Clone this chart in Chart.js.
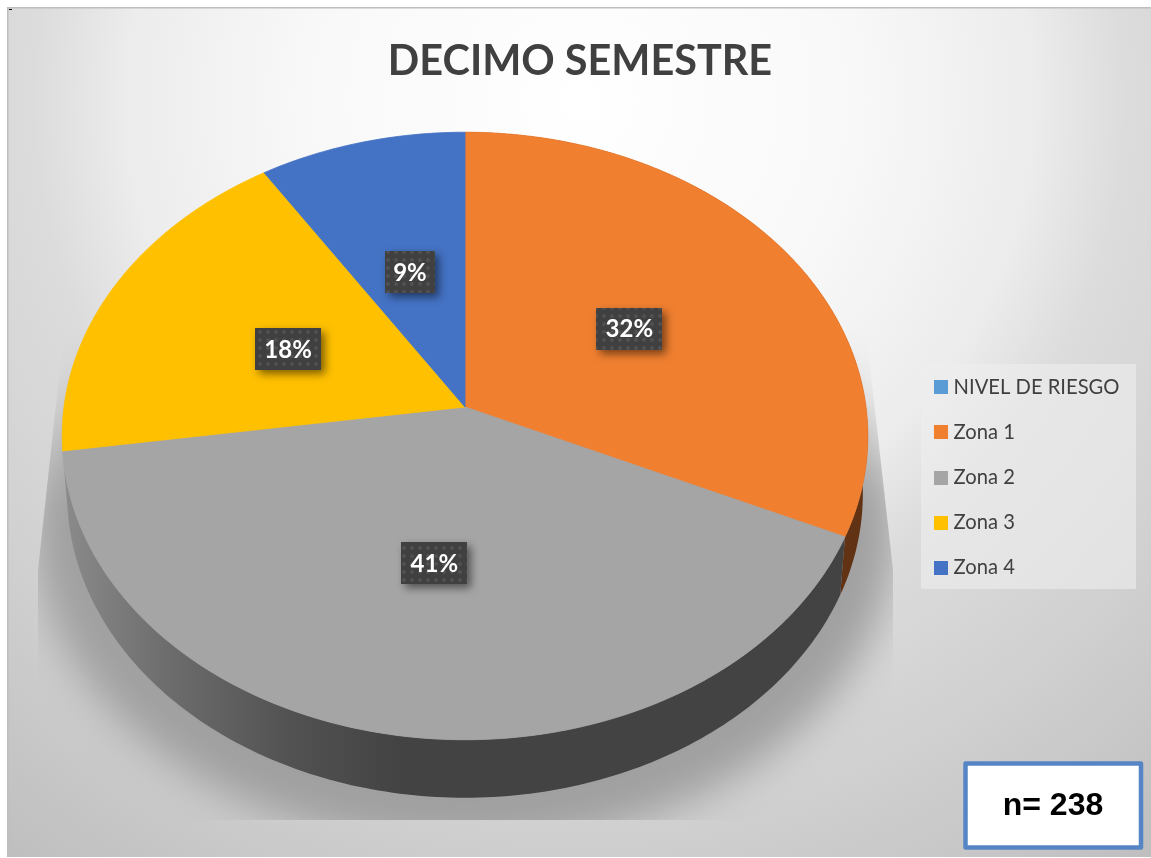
<!DOCTYPE html>
<html>
<head>
<meta charset="utf-8">
<style>html,body{margin:0;padding:0;background:#fff}canvas{display:block}</style>
<script src="https://cdn.jsdelivr.net/npm/chart.js@4"></script>
</head>
<body>
<canvas id="c" width="1151" height="858" style="width:1151px;height:858px"></canvas>
<script>
const chartTitle = 'DECIMO SEMESTRE';
const categories = ['NIVEL DE RIESGO', 'Zona 1', 'Zona 2', 'Zona 3', 'Zona 4'];
const shares = [0, 31.8, 40.9, 18.2, 9.1];
const topColors = ['#5B9BD5', '#F07F30', '#A5A5A5', '#FFC000', '#4472C4'];
const sideColors = [null, '#613214', 'gradient', null, null];
const noteText = 'n= 238';

/* perspective projection of the unit disc on to the page */
const PX = 465, PY = 407, DEPTH_Y = 465, SCALE_X = 401, SCALE_Y = 301, TILT = 0.0954, LOWER_X = 0.9876;
const labelNudge = [[0, 0], [0, 1], [-1, 0], [2, 3], [-1, 3]];
function project(u, v, lower) {
  const w = 1 - TILT * v;
  return [PX + SCALE_X * (lower ? LOWER_X : 1) * u / w, (lower ? DEPTH_Y : PY) + SCALE_Y * v / w];
}
function rimSteps(arc) {
  return Math.max(2, Math.ceil((arc.endAngle - arc.startAngle) * 60));
}
function rimPoint(arc, i, n, lower) {
  const a = arc.startAngle + (arc.endAngle - arc.startAngle) * i / n;
  return project(Math.cos(a), Math.sin(a), lower);
}
function slicePath(ctx, arc) {
  const n = rimSteps(arc), c = project(0, 0, false);
  ctx.beginPath();
  ctx.moveTo(c[0], c[1]);
  for (let i = 0; i <= n; i++) {
    const p = rimPoint(arc, i, n, false);
    ctx.lineTo(p[0], p[1]);
  }
  ctx.closePath();
}
function bandPath(ctx, arc) {
  const n = rimSteps(arc);
  ctx.beginPath();
  for (let i = 0; i <= n; i++) {
    const p = rimPoint(arc, i, n, false);
    if (i) ctx.lineTo(p[0], p[1]); else ctx.moveTo(p[0], p[1]);
  }
  for (let i = n; i >= 0; i--) {
    const p = rimPoint(arc, i, n, true);
    ctx.lineTo(p[0], p[1]);
  }
  ctx.closePath();
}
function dotPattern(ctx) {
  const t = document.createElement('canvas');
  t.width = t.height = 8;
  const g = t.getContext('2d');
  g.fillStyle = '#404040'; g.fillRect(0, 0, 8, 8);
  g.fillStyle = 'rgba(255,255,255,0.09)';
  g.beginPath(); g.arc(4, 4, 2, 0, Math.PI * 2); g.fill();
  return ctx.createPattern(t, 'repeat');
}
function legendSwatch(color) {
  const t = document.createElement('canvas');
  t.width = t.height = 14;
  const g = t.getContext('2d');
  g.fillStyle = color; g.fillRect(0, 0, 14, 14);
  return t;
}

const scenePlugin = {
  id: 'scene',
  beforeDraw(chart) {
    const ctx = chart.ctx;
    ctx.save();
    ctx.fillStyle = '#fff'; ctx.fillRect(0, 0, 1151, 858);
    /* background */
    ctx.save();
    ctx.beginPath(); ctx.rect(7, 7, 1144, 850); ctx.clip();
    ctx.translate(580, 100); ctx.scale(700, 700);
    const g = ctx.createRadialGradient(0, 0, 0, 0, 0, 1.4);
    [[0,'#ffffff'],[.4/1.4,'#f8f8f8'],[.65/1.4,'#ececec'],[.78/1.4,'#dcdcdc'],[1/1.4,'#d2d2d2'],[1.22/1.4,'#c6c6c6'],[1,'#bcbcbc']]
      .forEach(s => g.addColorStop(s[0], s[1]));
    ctx.fillStyle = g;
    ctx.fillRect(-2, -2, 4, 4);
    ctx.restore();
    ctx.fillStyle = '#bdbdbd';
    ctx.fillRect(7, 7, 1144, 1.5);
    ctx.fillRect(7, 7, 1.5, 850);
    ctx.fillStyle = '#000';
    ctx.fillRect(9, 9, 3, 1);
    /* soft floor shadow */
    ctx.save();
    ctx.beginPath();
    ctx.moveTo(64, 330); ctx.lineTo(866, 330); ctx.lineTo(893, 570); ctx.lineTo(893, 820);
    ctx.lineTo(38, 820); ctx.lineTo(38, 570); ctx.closePath(); ctx.clip();
    ctx.filter = 'blur(20px)';
    const sg = ctx.createLinearGradient(0, 330, 0, 500);
    sg.addColorStop(0, 'rgba(160,160,160,0)');
    sg.addColorStop(1, 'rgba(160,160,160,1)');
    ctx.fillStyle = sg;
    ctx.beginPath(); ctx.ellipse(465, 525, 432, 322, 0, 0, Math.PI * 2); ctx.fill();
    ctx.restore();
    /* legend panel */
    ctx.fillStyle = 'rgba(238,238,238,0.6)';
    ctx.fillRect(921, 364, 215, 225);
    ctx.restore();
  },
  afterLayout(chart) {
    const l = chart.legend, w = l.right - l.left, h = l.bottom - l.top;
    l.left = 913.5; l.right = l.left + w; l.top = 352; l.bottom = l.top + h;
    l.adjustHitBoxes();
    const t = chart.titleBlock;
    t.left += 4.5; t.right += 4.5;
  },
  beforeDatasetsDraw(chart) {
    const ctx = chart.ctx, arcs = chart.getDatasetMeta(0).data;
    ctx.save();
    const side = ctx.createLinearGradient(66, 0, 400, 0);
    side.addColorStop(0, '#8a8a8a');
    side.addColorStop(0.31, '#6c6c6c');
    side.addColorStop(0.67, '#525252');
    side.addColorStop(1, '#434343');
    arcs.forEach((arc, i) => {
      if (!shares[i] || !sideColors[i]) return;
      bandPath(ctx, arc);
      ctx.fillStyle = sideColors[i] === 'gradient' ? side : sideColors[i];
      ctx.fill();
    });
    arcs.forEach((arc, i) => {
      if (!shares[i]) return;
      slicePath(ctx, arc);
      ctx.fillStyle = topColors[i];
      ctx.strokeStyle = topColors[i];
      ctx.lineWidth = 0.8;
      ctx.fill();
      ctx.stroke();
    });
    ctx.restore();
    return false;
  },
  afterDraw(chart) {
    const ctx = chart.ctx, arcs = chart.getDatasetMeta(0).data;
    const total = shares.reduce((a, b) => a + b, 0);
    const pat = dotPattern(ctx);
    ctx.save();
    ctx.font = 'bold 24px Lato';
    ctx.textAlign = 'center';
    ctx.textBaseline = 'middle';
    arcs.forEach((arc, i) => {
      if (!shares[i]) return;
      const a = (arc.startAngle + arc.endAngle) / 2;
      const p = project(0.5 * Math.cos(a), 0.5 * Math.sin(a), false);
      p[0] += labelNudge[i][0]; p[1] += labelNudge[i][1];
      const label = Math.round(shares[i] / total * 100) + '%';
      const bw = label.length > 2 ? 66 : 50, bh = 42;
      ctx.save();
      ctx.shadowColor = 'rgba(0,0,0,0.5)';
      ctx.shadowBlur = 9; ctx.shadowOffsetX = 4; ctx.shadowOffsetY = 4;
      ctx.fillStyle = pat;
      ctx.fillRect(Math.round(p[0] - bw / 2), Math.round(p[1] - bh / 2), bw, bh);
      ctx.restore();
      ctx.fillStyle = '#ffffff';
      ctx.fillText(label, p[0], p[1] + 1);
    });
    /* note box */
    ctx.fillStyle = '#ffffff';
    ctx.strokeStyle = '#5585C5';
    ctx.lineWidth = 4.5;
    ctx.lineJoin = 'round';
    ctx.beginPath(); ctx.rect(965.5, 763.5, 175.5, 84); ctx.fill(); ctx.stroke();
    ctx.fillStyle = '#000000';
    ctx.font = 'bold 32px "Liberation Sans"';
    ctx.fillText(noteText, 1053, 806);
    ctx.restore();
  }
};

new Chart(document.getElementById('c'), {
  type: 'pie',
  data: {
    labels: categories,
    datasets: [{ data: shares, backgroundColor: topColors, borderWidth: 0 }]
  },
  options: {
    responsive: false,
    animation: false,
    events: [],
    plugins: {
      tooltip: { enabled: false },
      title: {
        display: true,
        text: chartTitle,
        color: '#404040',
        font: { family: 'Lato', size: 41.4, weight: 'bold' },
        padding: { top: 37, bottom: 10 }
      },
      legend: {
        position: 'right',
        align: 'start',
        labels: {
          color: '#404040',
          font: { family: 'Lato', size: 20.2 },
          padding: 25,
          usePointStyle: true,
          pointStyleWidth: 5,
          generateLabels: () => categories.map((c, i) => ({
            text: c, fontColor: '#404040', index: i, hidden: false,
            lineWidth: 0, strokeStyle: 'transparent', fillStyle: topColors[i],
            pointStyle: legendSwatch(topColors[i])
          }))
        }
      }
    }
  },
  plugins: [scenePlugin]
});
</script>
</body>
</html>
